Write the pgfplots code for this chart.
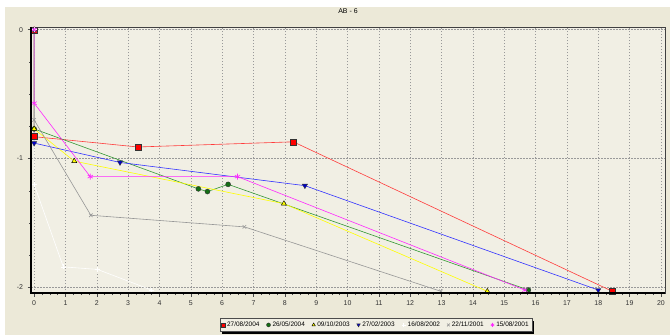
\documentclass[border=0pt]{standalone}
\usepackage{fontspec}
\setmainfont{Liberation Sans}
\usepackage{pgfplots}
\pgfplotsset{compat=1.18}
\usetikzlibrary{shadows}
\definecolor{outerbg}{RGB}{236,233,216}
\definecolor{innerbg}{RGB}{241,239,228}
\definecolor{cred}{RGB}{255,60,60}
\definecolor{cgreen}{RGB}{50,150,50}
\definecolor{cgreenm}{RGB}{20,110,20}
\definecolor{cyellow}{RGB}{255,255,0}
\definecolor{cblue}{RGB}{50,50,255}
\definecolor{cgray}{RGB}{150,150,150}
\definecolor{cmag}{RGB}{255,40,255}
\begin{document}
\begin{tikzpicture}
\useasboundingbox (0,0) rectangle (670bp,335bp);
\fill[white] (0,0) rectangle (670bp,335bp);
\fill[outerbg] (5bp,0) rectangle (670bp,328bp);
\begin{axis}[
  at={(31bp,42bp)}, anchor=south west,
  scale only axis, width=634bp, height=266bp,
  xmin=-0.1, xmax=20.13, ymin=-2.043, ymax=0.021,
  axis background/.style={fill=innerbg},
  axis line style={draw=black!75, line width=0.9bp},
  xtick={0,1,...,20}, ytick={-2,-1,0},
  minor x tick num=3, minor y tick num=3,
  tick align=outside, tick pos=left,
  major tick length=3.5bp, minor tick length=2bp,
  tick style={black!70, line width=0.5bp},
  xmajorgrids, ymajorgrids,
  major grid style={black!40, dash pattern=on 1.5bp off 1.5bp, line width=0.45bp},
  ticklabel style={font=\fontsize{7}{8}\selectfont, text=black!80},
  /pgf/number format/assume math mode=true,
  xticklabel style={yshift=-1bp},
  yticklabel style={xshift=-1bp},
  title={AB - 6},
  title style={at={(0.5,1)}, anchor=center, yshift=10bp, font=\fontsize{7}{8}\selectfont},
  legend columns=7,
  legend style={at={(0.544,-0.12)}, anchor=center, draw=black!70, fill=innerbg,
    font=\fontsize{6.5}{7}\selectfont, inner sep=1.2bp, row sep=0pt,
    drop shadow={shadow xshift=2.5bp, shadow yshift=-2.5bp, fill=black, opacity=1},
    /tikz/every even column/.append style={column sep=5bp}},
  legend image code/.code={\path[#1,mark size=2bp] plot coordinates {(0.1cm,0cm)};},
  every axis plot/.append style={line width=0.6bp},
]
\addplot[cred, mark=square*, mark size=3bp, mark options={fill=red, draw=black!80, line width=0.4bp}]
  coordinates {(0,0) (0,-0.83) (3.31,-0.91) (8.27,-0.87) (18.45,-2.03)};
\addlegendentry{27/08/2004}
\addplot[cgreen, mark=*, mark size=2.5bp, mark options={fill=cgreenm, draw=black!80, line width=0.4bp}]
  coordinates {(0,0) (0,-0.77) (5.24,-1.235) (5.53,-1.256) (6.19,-1.2) (15.77,-2.02)};
\addlegendentry{26/05/2004}
\addplot[cyellow, mark=triangle*, mark size=3bp, mark options={fill=cyellow, draw=black, line width=0.4bp}]
  coordinates {(0,0) (0,-0.77) (1.28,-1.02) (7.97,-1.35) (14.46,-2.03)};
\addlegendentry{09/10/2003}
\addplot[cblue, mark=triangle*, mark size=3bp, mark options={rotate=180, fill=blue!80!black, draw=black!80, line width=0.4bp}]
  coordinates {(0,0) (0,-0.88) (2.74,-1.03) (8.64,-1.21) (18.0,-2.02)};
\addlegendentry{27/02/2003}
\addplot[white, mark=+, mark size=2.5bp, mark options={white}]
  coordinates {(0,0) (0,-1.2) (0.93,-1.84) (2.02,-1.86) (3.75,-2.02)};
\addlegendentry{16/08/2002}
\addplot[cgray, mark=x, mark size=2.5bp, mark options={cgray}]
  coordinates {(0,0) (0,-0.70) (1.81,-1.44) (6.71,-1.53) (12.98,-2.03)};
\addlegendentry{22/11/2001}
\addplot[cmag, mark=asterisk, mark size=3bp, mark options={cmag, line width=0.6bp}]
  coordinates {(0,0) (0,-0.57) (1.79,-1.14) (6.49,-1.14) (15.66,-2.02)};
\addlegendentry{15/08/2001}
\end{axis}
\draw[black, line width=1.6bp] (31bp,308bp) -- (31bp,42bp) -- (665bp,42bp);
\end{tikzpicture}
\end{document}
